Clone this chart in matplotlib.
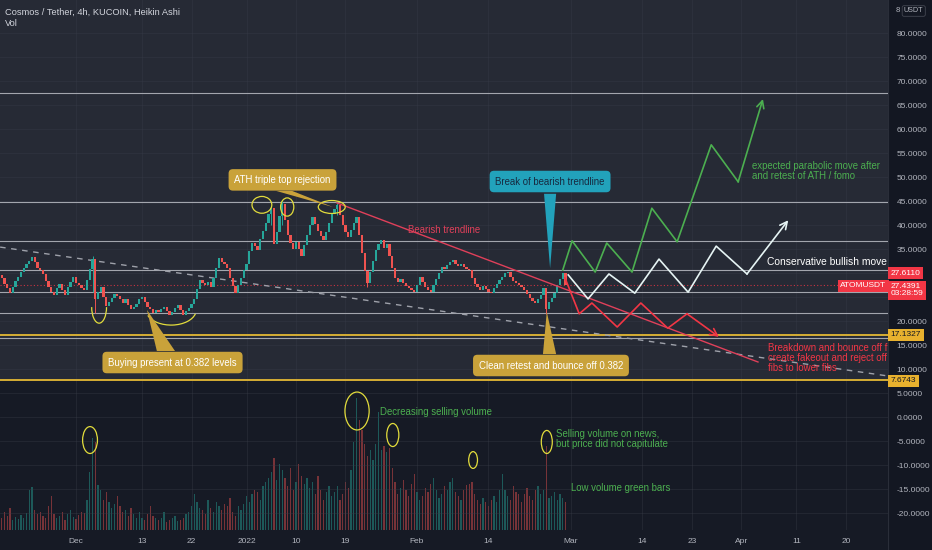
import matplotlib
matplotlib.use('Agg')
import matplotlib.pyplot as plt
import matplotlib.transforms as mtransforms
from matplotlib.patches import Ellipse, Arc, Polygon, Rectangle

plt.rcParams['font.family'] = ['Liberation Sans', 'DejaVu Sans']

# ---- ATOM/USDT, half-day steps, day 0 = 1 Dec 2021 ----
first_day = -13.5
step = 0.5
first_open = 29.6
closes = [
    29.0, 27.8, 26.9, 25.9, 27.0, 28.3, 29.1, 30.2, 31.0, 31.8,
    32.6, 33.4, 32.2, 31.0, 30.6, 29.8, 28.4, 27.0, 26.1, 25.5,
    26.8, 27.8, 26.4, 25.5, 27.0, 28.2, 29.1, 28.0, 27.4, 26.8,
    26.4, 28.5, 30.8, 33.0, 24.5, 26.0, 27.0, 25.0, 23.2, 24.0,
    24.8, 25.6, 25.3, 24.5, 23.8, 24.6, 23.4, 22.4, 23.0, 23.6,
    24.5, 25.0, 23.9, 23.0, 22.4, 21.7, 22.2, 21.9, 22.6, 22.9,
    22.0, 21.3, 21.9, 22.7, 23.3, 22.2, 21.3, 22.0, 22.8, 23.6,
    24.6, 26.6, 28.5, 27.9, 27.6, 28.2, 27.0, 28.9, 31.0, 33.1,
    32.2, 31.8, 31.0, 28.9, 27.2, 25.8, 27.4, 28.9, 30.6, 31.9,
    34.5, 36.2, 35.6, 34.8, 37.0, 38.8, 40.5, 42.2, 43.6, 36.0,
    38.5, 41.8, 44.4, 41.0, 38.0, 36.2, 34.9, 36.4, 35.0, 33.6,
    35.8, 37.9, 40.0, 41.6, 40.2, 38.8, 37.8, 36.9, 38.6, 40.4,
    42.2, 43.3, 44.2, 42.0, 40.1, 38.6, 37.5, 39.0, 40.5, 41.6,
    38.0, 34.2, 30.5, 28.0, 30.2, 32.5, 34.8, 36.0, 36.9, 35.2,
    36.0, 33.5, 31.0, 29.0, 28.1, 28.8, 27.9, 27.2, 26.8, 26.4,
    26.1, 27.6, 29.2, 28.1, 27.1, 26.4, 26.0, 27.4, 28.8, 30.0,
    31.3, 30.8, 31.6, 32.2, 32.7, 31.9, 31.4, 31.8, 31.2, 30.9,
    30.6, 29.0, 27.8, 27.0, 26.5, 27.2, 26.6, 26.0, 25.8, 26.9,
    27.8, 28.5, 29.2, 29.9, 30.2, 29.1, 28.3, 27.9, 27.4, 27.0,
    26.4, 25.6, 24.8, 24.2, 23.8, 24.6, 25.4, 26.9, 22.6, 23.9,
    24.8, 25.8, 27.4, 28.8, 30.0, 27.5,
]
volume = [
    12, 18, 14, 22, 10, 13, 11, 15, 12, 17,
    40, 43, 20, 16, 18, 14, 12, 24, 34, 16,
    12, 14, 18, 10, 16, 20, 13, 11, 15, 18,
    17, 30, 58, 92, 88, 45, 40, 30, 38, 28,
    22, 26, 34, 24, 18, 20, 14, 22, 16, 12,
    18, 12, 10, 16, 24, 14, 12, 10, 12, 18,
    8, 10, 12, 14, 9, 10, 12, 16, 18, 24,
    36, 28, 22, 20, 16, 30, 22, 18, 28, 24,
    20, 26, 24, 32, 18, 14, 24, 20, 26, 34,
    28, 36, 40, 38, 30, 44, 48, 52, 58, 72,
    50, 66, 60, 52, 44, 62, 40, 48, 66, 54,
    46, 52, 42, 48, 36, 54, 40, 30, 38, 44,
    34, 38, 44, 30, 36, 48, 42, 60, 88, 132,
    110, 100, 86, 74, 80, 70, 86, 118, 80, 84,
    78, 82, 62, 48, 36, 42, 50, 40, 34, 46,
    56, 38, 30, 34, 42, 38, 46, 52, 40, 32,
    36, 44, 40, 48, 52, 38, 34, 30, 40, 45,
    46, 48, 36, 30, 26, 32, 28, 24, 30, 34,
    28, 40, 56, 40, 34, 30, 44, 38, 36, 28,
    36, 42, 34, 30, 40, 44, 36, 40, 84, 32,
    34, 38, 30, 36, 32, 28,
]
# a few visible wicks
wick_idx = [33, 34, 98, 102, 122, 133, 198]
wick_lo = [26.0, 21.6, 40.0, 40.0, 42.0, 27.0, 21.5]
wick_hi = [33.6, 33.0, 44.0, 45.0, 44.6, 30.5, 26.9]

# drawn levels
white_levels = [67.5, 44.8, 36.7, 30.6, 26.0, 21.7, 16.4]
fib_levels = [17.1327, 7.6743]
last_price = 27.4391

# projections (day, price)
green_days = [88.5, 90.2, 94.4, 96.5, 101.1, 104.7, 109.3, 115.5, 120.4, 124.9]
green_prices = [30.6, 36.7, 30.2, 36.25, 30.2, 43.5, 36.5, 56.7, 49.0, 66.25]
white_days = [89.5, 93.1, 96.9, 101.6, 106.0, 111.3, 116.4, 122.0, 129.5]
white_prices = [29.6, 24.6, 29.8, 25.8, 32.9, 26.0, 35.6, 29.8, 41.0]
red_days = [88.9, 91.5, 93.8, 98.4, 102.7, 107.6, 111.1, 116.9]
red_prices = [29.0, 21.5, 23.75, 18.75, 23.75, 18.5, 21.5, 16.7]
trend_days = [47.45, 124.0]
trend_prices = [44.6, 11.46]
dash_days = [-13.8, 147.6]
dash_prices = [35.4, 8.55]

tick_days = [0, 12, 21, 31, 40, 49, 62, 75, 90, 103, 112, 121, 131, 140]
tick_labels = ['Dec', '13', '22', '2022', '10', '19', 'Feb', '14', 'Mar', '14', '23', 'Apr', '11', '20']
price_ticks = list(range(80, -25, -5))

UP = '#26a69a'
DOWN = '#ef5350'
BG_DARK = '#161a25'
BG_TOP = '#262a35'
GOLD = '#c9a23a'
YEL = '#e2dc3c'
FS = 6.9

W, H = 932, 550
fig = plt.figure(figsize=(W / 100, H / 100), dpi=100, facecolor=BG_DARK)
ax = fig.add_axes([0, 20 / H, 888 / W, 530 / H])
ax2 = ax.twinx()
ax.set_zorder(2)
ax.patch.set_visible(False)
ax2.set_zorder(1)

x0, x1 = -13.82, 147.64
y0, y1 = -23.54, 86.875
ax.set_xlim(x0, x1)
ax.set_ylim(y0, y1)

# background for the price area
ax.add_patch(Rectangle((x0, fib_levels[1]), x1 - x0, y1 - fib_levels[1], color=BG_TOP, zorder=0, lw=0))

# grid
for p in price_ticks:
    ax.axhline(p, color='#3a3e4a', lw=0.6, alpha=0.4, zorder=0.5)
for d in tick_days:
    ax.axvline(d, color='#3a3e4a', lw=0.6, alpha=0.4, zorder=0.5)

# candles
days = [first_day + step * i for i in range(len(closes))]
opens = [first_open] + closes[:-1]
cols = [UP if c >= o else DOWN for o, c in zip(opens, closes)]
bottoms = [min(o, c) for o, c in zip(opens, closes)]
heights = [max(abs(c - o), 0.25) for o, c in zip(opens, closes)]
ax.vlines([days[i] for i in wick_idx], wick_lo, wick_hi, colors=[cols[i] for i in wick_idx], lw=0.7, zorder=3)
ax.bar(days, heights, bottom=bottoms, width=0.44, color=cols, lw=0, zorder=3)

# volume on its own scale
ax2.bar(days, volume, width=0.22, color=cols, alpha=0.45, lw=0)
ax2.set_ylim(0, 530)
ax2.set_yticks([])
for s in ax2.spines.values():
    s.set_visible(False)

# levels
for lv in white_levels:
    ax.axhline(lv, color='#a3a6ae', lw=0.8, zorder=2)
for lv in fib_levels:
    ax.axhline(lv, color='#d6ae34', lw=1.4, zorder=2)
ax.axhline(last_price, color='#f23645', lw=0.8, ls=(0, (1, 2)), alpha=0.8, zorder=2)

ax.plot(dash_days, dash_prices, color='#9ea1aa', lw=1, ls=(0, (4, 4)), zorder=2)
ax.plot(trend_days, trend_prices, color='#e0405a', lw=1, zorder=4)
ax.text(60.4, 39.0, 'Bearish trendline', color='#e0405a', fontsize=FS, va='center', zorder=5)

# projections
for dd, pp, c in [(green_days, green_prices, '#4caf50'),
                  (white_days, white_prices, '#e6f4f4'),
                  (red_days, red_prices, '#f23645')]:
    ax.plot(dd[:-1], pp[:-1], color=c, lw=1.2, zorder=5)
    ax.annotate('', xy=(dd[-1], pp[-1]), xytext=(dd[-2], pp[-2]),
                arrowprops=dict(arrowstyle='->', color=c, lw=1.2, mutation_scale=13,
                                shrinkA=0, shrinkB=0), zorder=5)

# circles drawn on the chart
ellipses = [(33.8, 44.2, 3.6, 3.5), (38.4, 43.75, 2.4, 3.8), (46.5, 43.75, 4.9, 2.7),
            (2.55, -4.8, 2.7, 5.6), (51.1, 1.25, 4.4, 7.9), (57.6, -3.75, 2.2, 4.8),
            (72.2, -8.96, 1.6, 3.5), (85.6, -5.2, 2.0, 4.8)]
for cx, cy, ew, eh in ellipses:
    ax.add_patch(Ellipse((cx, cy), ew, eh, fill=False, ec=YEL, lw=0.9, zorder=6))
ax.add_patch(Arc((4.2, 22.9), 2.7, 6.7, theta1=180, theta2=360, ec=YEL, lw=0.9, zorder=6))
ax.add_patch(Arc((17.3, 22.3), 9.1, 6.3, theta1=195, theta2=350, ec=YEL, lw=0.9, zorder=6))

# callout boxes
def callout(x, y, text, fc, tc, tip):
    ax.add_patch(Polygon(tip, closed=True, fc=fc, ec='none', zorder=7))
    ax.text(x, y, text, ha='center', va='center', color=tc, fontsize=FS, zorder=8,
            bbox=dict(boxstyle='round,pad=0.6,rounding_size=0.45', fc=fc, ec='none'))

callout(37.55, 49.4, 'ATH triple top rejection', GOLD, 'white',
        [(36.4, 47.1), (39.3, 47.1), (46.7, 43.75)])
callout(17.55, 11.35, 'Buying present at 0.382 levels', GOLD, 'white',
        [(14.7, 13.75), (18.0, 13.75), (12.9, 22.3)])
callout(86.2, 49.06, 'Break of bearish trendline', '#22a2bb', '#17293f',
        [(85.1, 46.5), (87.3, 46.5), (86.2, 31.0)])
callout(86.36, 10.73, 'Clean retest and bounce off 0.382', GOLD, 'white',
        [(84.9, 13.1), (87.3, 13.1), (85.6, 21.9)])

# notes
ax.text(122.9, 51.25, 'expected parabolic move after\nand retest of ATH / fomo', color='#4caf50',
        fontsize=FS, va='center', linespacing=1.0, zorder=8, clip_on=True)
ax.text(125.6, 32.3, 'Conservative bullish move', color='white', fontsize=7.4, va='center', zorder=8,
        clip_on=True)
ax.text(125.8, 12.3, 'Breakdown and bounce off fibs\ncreate fakeout and reject off\nfibs to lower fibs',
        color='#f23645', fontsize=FS, va='center', linespacing=0.95, zorder=8, clip_on=True)
ax.text(55.3, 1.0, 'Decreasing selling volume', color='#4caf50', fontsize=FS, va='center', zorder=8)
ax.text(87.3, -4.5, 'Selling volume on news,\nbut price did not capitulate', color='#4caf50',
        fontsize=FS, va='center', linespacing=1.0, zorder=8)
ax.text(90.0, -14.8, 'Low volume green bars', color='#4caf50', fontsize=FS, va='center', zorder=8)

# axes and ticks
ax.yaxis.tick_right()
ax.set_yticks(price_ticks)
ax.set_yticklabels(['' if p in (25, 30) else f'{p:.4f}' for p in price_ticks])
ax.set_xticks(tick_days)
ax.set_xticklabels(tick_labels)
ax.tick_params(axis='both', length=0, colors='#b2b5be', labelsize=6)
ax.tick_params(axis='y', pad=6)
ax.tick_params(axis='x', pad=6)
for s in ax.spines.values():
    s.set_visible(False)

# right price-scale strip
fig.add_artist(Rectangle((888 / W, 0), 44 / W, 1, transform=fig.transFigure,
                         color='#131722', zorder=0.5))
fig.add_artist(plt.Line2D([888 / W, 888 / W], [0, 1], transform=fig.transFigure,
                          color='#2a2e39', lw=0.8, zorder=0.6))

# price labels on the scale
tr = mtransforms.blended_transform_factory(ax.transAxes, ax.transData)
def tag(y, text, fc, tc, x=1.003, ha='left'):
    ax.text(x, y, text, transform=tr, ha=ha, va='center', fontsize=6, color=tc,
            linespacing=1.05, clip_on=False, zorder=9,
            bbox=dict(boxstyle='square,pad=0.3', fc=fc, ec='none'))

tag(29.9, '27.6110', '#f23645', 'white')
tag(26.4, '27.4391\n03:28:59', '#f23645', 'white')
tag(27.3, 'ATOMUSDT', '#f23645', 'white', x=0.998, ha='right')
tag(17.13, '17.1327', '#e8b12e', '#131722')
tag(7.6, '7.6743', '#e8b12e', '#131722')

fig.text(896 / W, 1 - 10 / H, '8', color='#b2b5be', fontsize=5.6, va='center')
fig.text(904 / W, 1 - 11 / H, 'USDT', color='#b2b5be', fontsize=5.2, va='center',
         bbox=dict(boxstyle='round,pad=0.25', fc='none', ec='#434651', lw=0.6))

fig.text(5 / W, 1 - 12 / H, 'Cosmos / Tether, 4h, KUCOIN, Heikin Ashi', color='#d1d4dc', fontsize=6.7, va='center')
fig.text(5 / W, 1 - 24 / H, 'Vol', color='#d1d4dc', fontsize=6.7, va='center')

fig.savefig('out.png', dpi=100, facecolor=fig.get_facecolor())
